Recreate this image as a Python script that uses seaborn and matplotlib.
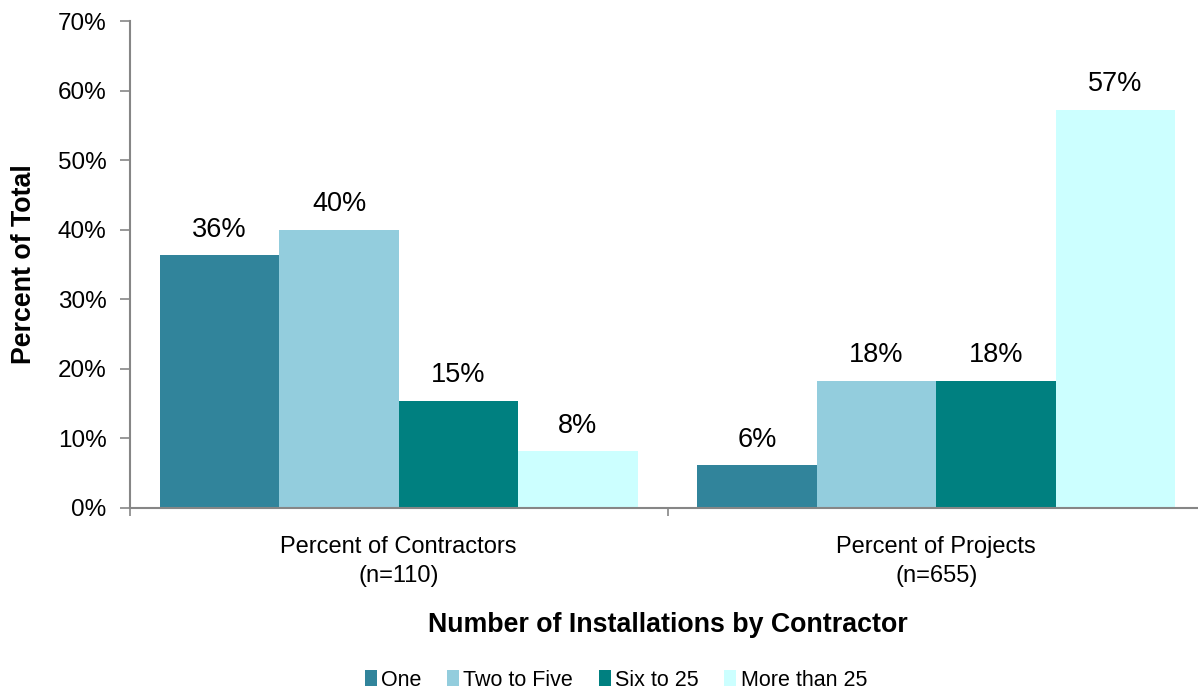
import numpy as np
import pandas as pd
import seaborn as sns
import matplotlib
matplotlib.use("Agg")
import matplotlib.pyplot as plt
from matplotlib.patches import Patch
from matplotlib.ticker import FuncFormatter, FixedLocator
from matplotlib import font_manager

# Share of contractors / projects by number of installations per contractor
groups = ["Percent of Contractors\n(n=110)", "Percent of Projects\n(n=655)"]
sizes = ["One", "Two to Five", "Six to 25", "More than 25"]
contractors_pct = [36.36, 40.00, 15.45, 8.18]
projects_pct = [6.11, 18.32, 18.32, 57.25]
colors = ["#31849B", "#93CDDD", "#008080", "#CCFFFF"]
y_ticks = [0, 10, 20, 30, 40, 50, 60, 70]

df = pd.DataFrame({
    "group": np.repeat(groups, len(sizes)),
    "size": sizes * len(groups),
    "pct": contractors_pct + projects_pct,
})

sns.set_theme(style="white")
plt.rcParams["font.family"] = ["Liberation Sans", "DejaVu Sans"]
plt.rcParams["text.color"] = "black"
plt.rcParams["axes.labelcolor"] = "black"
axis_grey = "#868686"

# Legend uses a condensed face when available
installed = {f.name for f in font_manager.fontManager.ttflist}
if "Liberation Sans Narrow" in installed:
    legend_font = {"family": "Liberation Sans Narrow", "size": 17.5}
else:
    legend_font = {"family": "Liberation Sans", "size": 15.5}

fig = plt.figure(figsize=(11.98, 6.89), dpi=100)
ax = fig.add_axes([130 / 1198, 181 / 689, 1075 / 1198, 487 / 689])

sns.barplot(data=df, x="group", y="pct", hue="size", hue_order=sizes,
            palette=colors, width=0.889, gap=0, linewidth=0,
            saturation=1, legend=False, ax=ax)

for cont in ax.containers:
    ax.bar_label(cont, labels=[f"{v:.0f}%" for v in cont.datavalues],
                 padding=9, fontsize=19.5, color="black")

ax.set_ylim(0, 70)
ax.set_xlim(-0.5, 1.5)
ax.yaxis.set_major_locator(FixedLocator(y_ticks))
ax.yaxis.set_major_formatter(FuncFormatter(lambda v, p: f"{v:.0f}%"))
ax.tick_params(axis="y", which="major", left=True, length=7, width=1.2,
               color=axis_grey, labelsize=17.5, labelcolor="black", pad=10)

ax.set_xticks([0, 1])
ax.set_xticklabels(groups, fontsize=17, linespacing=1.4)
ax.set_xticks([-0.5, 0.5, 1.5], minor=True)
ax.tick_params(axis="x", which="major", bottom=False, length=0, pad=20,
               labelcolor="black")
ax.tick_params(axis="x", which="minor", bottom=True, length=6, width=1.2,
               color=axis_grey)

for side in ["top", "right"]:
    ax.spines[side].set_visible(False)
for side in ["left", "bottom"]:
    ax.spines[side].set_color(axis_grey)
    ax.spines[side].set_linewidth(1.5)

ax.set_xlabel("Number of Installations by Contractor", fontsize=19.3,
              fontweight="bold", labelpad=18)
ax.set_ylabel("Percent of Total", fontsize=19.3, fontweight="bold", labelpad=15)

handles = [Patch(facecolor=c, edgecolor="none", label=s)
           for s, c in zip(sizes, colors)]
fig.legend(handles=handles, loc="center", bbox_to_anchor=(0.514, 0.013),
           ncol=4, frameon=False, prop=legend_font, handlelength=0.55,
           handleheight=0.7, handletextpad=0.2, columnspacing=1.2)

fig.savefig("out.png", dpi=100)
